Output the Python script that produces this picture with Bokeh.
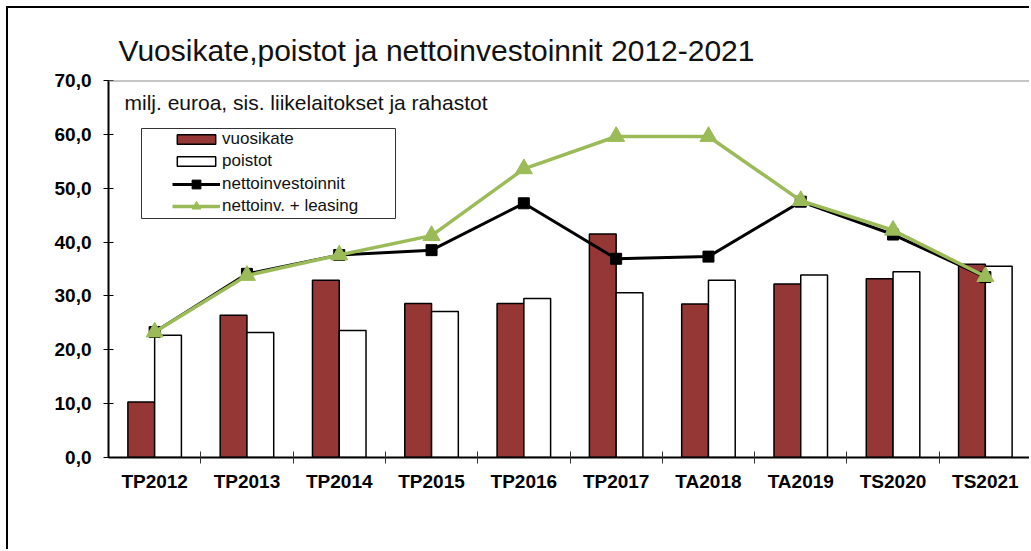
import numpy as np
from bokeh.plotting import figure
from bokeh.models import (Range1d, FixedTicker, Span, Label, Legend, LegendItem,
                          ColumnDataSource, BoxAnnotation)
from bokeh.embed import file_html
from bokeh.resources import INLINE

# ---- data ----
categories = ["TP2012", "TP2013", "TP2014", "TP2015", "TP2016",
              "TP2017", "TA2018", "TA2019", "TS2020", "TS2021"]
vuosikate = [10.3, 26.4, 32.9, 28.6, 28.6, 41.5, 28.5, 32.2, 33.2, 35.9]
poistot = [22.7, 23.2, 23.6, 27.1, 29.5, 30.6, 32.9, 33.9, 34.5, 35.5]
nettoinvestoinnit = [23.3, 34.1, 37.6, 38.5, 47.2, 36.9, 37.3, 47.5, 41.4, 33.5]
nettoinv_leasing = [23.3, 33.8, 37.6, 41.2, 53.6, 59.6, 59.6, 47.7, 42.2, 33.6]
y_ticks = [0, 10, 20, 30, 40, 50, 60, 70]
y_tick_labels = ["0,0", "10,0", "20,0", "30,0", "40,0", "50,0", "60,0", "70,0"]
title_text = "Vuosikate,poistot ja nettoinvestoinnit 2012-2021"
subtitle_text = "milj. euroa, sis. liikelaitokset ja rahastot"
legend_labels = ["vuosikate", "poistot", "nettoinvestoinnit", "nettoinv. + leasing"]

# ---- layout ----
W, H = 1023, 543
LEFT, TOP, BOTTOM = 100, 72, 94
frame_h = H - TOP - BOTTOM
n = len(categories)

p = figure(width=W, height=H, x_range=Range1d(0, n), y_range=Range1d(0, 70),
           output_backend="svg", toolbar_location=None,
           min_border_left=LEFT, min_border_right=0, min_border_top=TOP,
           min_border_bottom=BOTTOM, outline_line_color=None)
# outer chart-area border (top and left edges)
p.styles = {"border-left": "2px solid #000", "border-top": "2px solid #000",
            "margin-left": "6px", "margin-top": "6px"}

p.title.text = title_text
p.title.text_font = "Liberation Sans"
p.title.text_font_size = "30px"
p.title.text_font_style = "normal"
p.title.text_color = "#111111"
p.title.align = "left"
p.title.offset = 10
p.title.standoff = 27

centers = np.arange(n) + 0.5
bw = 0.29
src = ColumnDataSource(dict(
    xc=centers, red_x=centers - bw / 2, white_x=centers + bw / 2,
    vuosikate=vuosikate, poistot=poistot,
    netto=nettoinvestoinnit, leasing=nettoinv_leasing))

r_red = p.vbar(x="red_x", top="vuosikate", width=bw, source=src,
               fill_color="#953735", line_color="black", line_width=1.5)
r_white = p.vbar(x="white_x", top="poistot", width=bw, source=src,
                 fill_color="white", line_color="black", line_width=1.5)
l_black = p.line(x="xc", y="netto", source=src, line_color="black", line_width=3)
m_black = p.scatter(x="xc", y="netto", source=src, marker="square", size=11,
                    fill_color="black", line_color="black")
l_green = p.line(x="xc", y="leasing", source=src, line_color="#9BBB59", line_width=3.5)
m_green = p.scatter(x="xc", y="leasing", source=src, marker="triangle", size=17,
                    fill_color="#9BBB59", line_color="#9BBB59")

# top border of plot area
p.add_layout(Span(location=70, dimension="width", line_color="#8c8c8c", line_width=2))

# axes
p.xgrid.visible = False
p.ygrid.visible = False

xa = p.xaxis[0]
xa.ticker = FixedTicker(ticks=list(centers), minor_ticks=list(np.arange(1, n)))
xa.major_label_overrides = {float(c): cat for c, cat in zip(centers, categories)}
xa.axis_line_color = "black"
xa.axis_line_width = 2
xa.major_tick_line_color = None
xa.major_tick_in = 0
xa.major_tick_out = 0
xa.minor_tick_line_color = "#333333"
xa.minor_tick_in = 6
xa.minor_tick_out = 6
xa.major_label_standoff = 7
xa.major_label_text_font = "Liberation Sans"
xa.major_label_text_font_style = "bold"
xa.major_label_text_font_size = "19px"
xa.major_label_text_color = "black"

ya = p.yaxis[0]
ya.ticker = FixedTicker(ticks=y_ticks)
ya.major_label_overrides = {t: l for t, l in zip(y_ticks, y_tick_labels)}
ya.axis_line_color = "black"
ya.axis_line_width = 2
ya.major_tick_line_color = "black"
ya.major_tick_in = 5
ya.major_tick_out = 5
ya.minor_tick_line_color = None
ya.major_label_standoff = 12
ya.major_label_text_font = "Liberation Sans"
ya.major_label_text_font_style = "bold"
ya.major_label_text_font_size = "19px"
ya.major_label_text_color = "black"

# subtitle inside plot area
p.add_layout(Label(x=16, y=frame_h - 22, x_units="screen", y_units="screen",
                   text=subtitle_text, text_font="Liberation Sans",
                   text_font_size="21px", text_color="#111111",
                   text_baseline="alphabetic"))

# legend frame
p.add_layout(BoxAnnotation(left=33, right=287, top=frame_h - 48, bottom=frame_h - 138,
                           left_units="screen", right_units="screen",
                           top_units="screen", bottom_units="screen",
                           fill_color="white", fill_alpha=1,
                           line_color="#333333", line_width=1, line_alpha=1))

common = dict(padding=0, margin=0, label_standoff=2, glyph_width=48,
              label_height=20, label_text_font="Liberation Sans",
              label_text_font_size="17px", label_text_color="#111111",
              border_line_color=None, background_fill_alpha=0)
leg_bars = Legend(items=[LegendItem(label=legend_labels[0], renderers=[r_red]),
                         LegendItem(label=legend_labels[1], renderers=[r_white])],
                  location=(64, frame_h - 49 - 42), spacing=2, glyph_height=12,
                  **common)
leg_lines = Legend(items=[LegendItem(label=legend_labels[2], renderers=[l_black, m_black]),
                          LegendItem(label=legend_labels[3], renderers=[l_green, m_green])],
                   location=(64, frame_h - 49 - 44 - 44), spacing=0, glyph_height=22,
                   **common)
p.add_layout(leg_bars, "center")
p.add_layout(leg_lines, "center")

open("out.html", "w").write(file_html(p, INLINE))
